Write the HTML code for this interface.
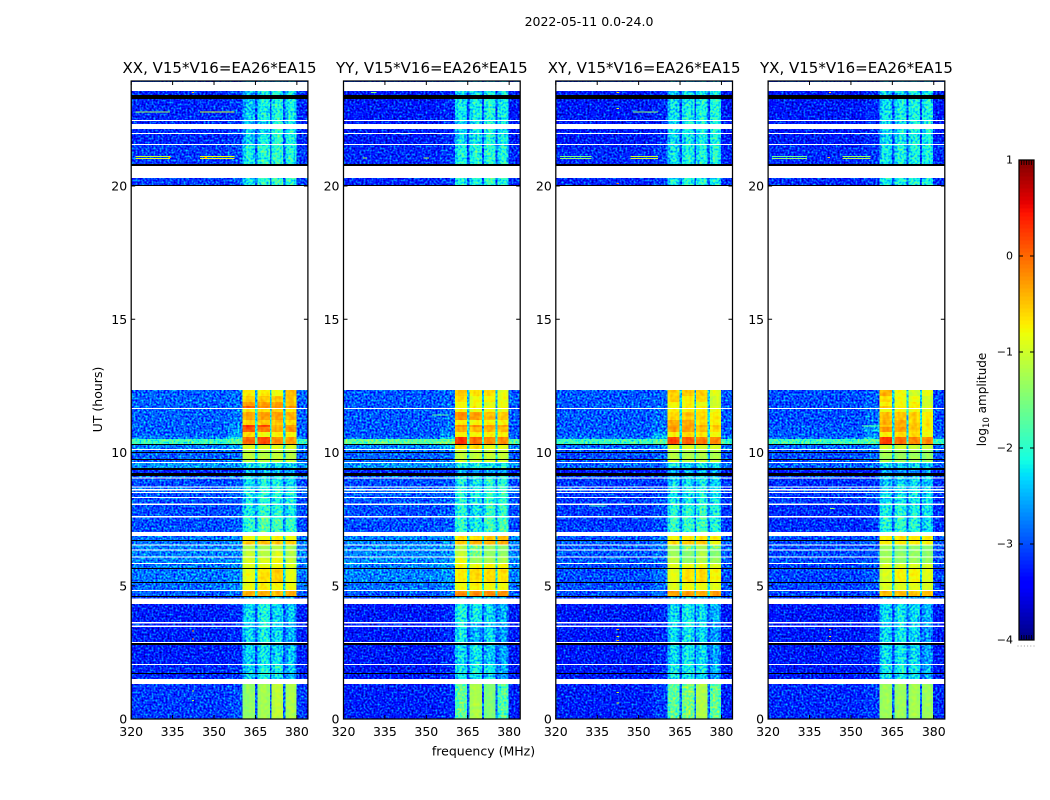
<!DOCTYPE html>
<html lang="en">
<head>
<meta charset="utf-8">
<title>2022-05-11 0.0-24.0 amplitude waterfall</title>
<style>
html,body{margin:0;padding:0;background:#fff;}
svg{display:block;font-family:"DejaVu Sans","Liberation Sans",sans-serif;fill:#000;}
</style>
</head>
<body>
<svg id="chart" xmlns="http://www.w3.org/2000/svg" width="1050" height="800" viewBox="0 0 1050 800">
  <defs>
    <!-- Cell fills hold log-amplitude as gray; the filters map gray to the jet colormap. The grain is visual texture only, not data. -->
    <filter id="grainBg" filterUnits="userSpaceOnUse" x="0" y="0" width="1050" height="800" color-interpolation-filters="sRGB">
      <feTurbulence type="fractalNoise" baseFrequency="0.5" numOctaves="1" seed="3" result="n"/>
      <feColorMatrix in="n" type="matrix" values="1 0 0 0 0 1 0 0 0 0 1 0 0 0 0 0 0 0 0 1" result="g"/>
      <feComposite in="SourceGraphic" in2="g" operator="arithmetic" k1="0" k2="1" k3="0.5" k4="-0.25" result="m"/>
      <feComponentTransfer in="m" result="c"><feFuncR class="jr" type="table"/><feFuncG class="jg" type="table"/><feFuncB class="jb" type="table"/></feComponentTransfer>
      <feComposite in="c" in2="SourceAlpha" operator="in"/>
    </filter>
    <filter id="grainBand" filterUnits="userSpaceOnUse" x="0" y="0" width="1050" height="800" color-interpolation-filters="sRGB">
      <feTurbulence type="fractalNoise" baseFrequency="0.45" numOctaves="1" seed="8" result="n"/>
      <feColorMatrix in="n" type="matrix" values="1 0 0 0 0 1 0 0 0 0 1 0 0 0 0 0 0 0 0 1" result="g"/>
      <feComposite in="SourceGraphic" in2="g" operator="arithmetic" k1="0" k2="1" k3="0.45" k4="-0.225" result="m"/>
      <feComponentTransfer in="m" result="c"><feFuncR class="jr" type="table"/><feFuncG class="jg" type="table"/><feFuncB class="jb" type="table"/></feComponentTransfer>
      <feComposite in="c" in2="SourceAlpha" operator="in"/>
    </filter>
    <filter id="grainHot" filterUnits="userSpaceOnUse" x="0" y="0" width="1050" height="800" color-interpolation-filters="sRGB">
      <feTurbulence type="fractalNoise" baseFrequency="0.3" numOctaves="1" seed="5" result="n"/>
      <feColorMatrix in="n" type="matrix" values="1 0 0 0 0 1 0 0 0 0 1 0 0 0 0 0 0 0 0 1" result="g"/>
      <feComposite in="SourceGraphic" in2="g" operator="arithmetic" k1="0" k2="1" k3="0.1" k4="-0.05" result="m"/>
      <feComponentTransfer in="m" result="c"><feFuncR class="jr" type="table"/><feFuncG class="jg" type="table"/><feFuncB class="jb" type="table"/></feComponentTransfer>
      <feComposite in="c" in2="SourceAlpha" operator="in"/>
    </filter>
    <filter id="plainJet" filterUnits="userSpaceOnUse" x="0" y="0" width="1050" height="800" color-interpolation-filters="sRGB">
      <feComponentTransfer><feFuncR class="jr" type="table"/><feFuncG class="jg" type="table"/><feFuncB class="jb" type="table"/></feComponentTransfer>
    </filter>
  </defs>
  <rect x="0" y="0" width="1050" height="800" fill="#fff"/>
  <text x="589" y="26" text-anchor="middle" font-size="12.5">2022-05-11 0.0-24.0</text>
  <text x="483.5" y="755.5" text-anchor="middle" font-size="12.5">frequency (MHz)</text>
  <text transform="translate(102,399.5) rotate(-90)" text-anchor="middle" font-size="12.5">UT (hours)</text>
  <text transform="translate(986,399.5) rotate(-90)" text-anchor="middle" font-size="12">log<tspan font-size="8.5" dy="3">10</tspan><tspan dy="-3"> amplitude</tspan></text>
  <g id="panels"></g>
  <g id="colorbar"></g>
</svg>
<script>
// ---- shared axes data ----
const panelTitles = ["XX, V15*V16=EA26*EA15","YY, V15*V16=EA26*EA15","XY, V15*V16=EA26*EA15","YX, V15*V16=EA26*EA15"];
const xTicks = [320,335,350,365,380];
const yTicks = [0,5,10,15,20];
const cbTicks = [-4,-3,-2,-1,0,1];
// frequency channel-group edges (MHz)
const freqEdges = [320,355,360.4,361.5,363.6,364.8,365.7,367,369,370.2,370.8,372,374,375,375.8,377,379,379.8,384];
// which value of a row each frequency column uses: 0 bg, 1 near, 2..5 bands, 6 notch
const columnValue = [0,1,2,2,2,6,3,3,3,6,4,4,4,6,5,5,5,0];
// passband shape read across each band (dex relative to the band level)
const columnShape = [0,0,-0.2,0.05,-0.1,0,-0.15,0.05,-0.1,0,-0.15,0.05,-0.1,0,-0.15,0.05,-0.2,0];
// time bands: start UT, end UT, kind (d = data, w = flagged white, k = flagged black)
const timeBands = [
[0,1.31,'d'],[1.31,1.5,'w'],[1.5,1.69,'d'],[1.69,1.73,'k'],[1.73,2.03,'d'],[2.03,2.06,'w'],[2.06,2.78,'d'],[2.78,2.85,'k'],[2.85,2.89,'w'],[2.89,3.45,'d'],
[3.45,3.51,'w'],[3.51,3.59,'d'],[3.59,3.64,'w'],[3.64,4.32,'d'],[4.32,4.52,'w'],[4.52,4.58,'d'],[4.58,4.62,'k'],[4.62,4.8,'d'],[4.8,4.84,'w'],[4.84,5.1,'d'],
[5.1,5.14,'k'],[5.14,5.63,'d'],[5.63,5.67,'k'],[5.67,5.82,'d'],[5.82,5.85,'w'],[5.85,6.06,'d'],[6.06,6.1,'w'],[6.1,6.32,'d'],[6.32,6.36,'w'],[6.36,6.51,'d'],
[6.51,6.55,'w'],[6.55,6.68,'d'],[6.68,6.72,'k'],[6.72,6.87,'d'],[6.87,7.02,'w'],[7.02,7.56,'d'],[7.56,7.62,'w'],[7.62,8.03,'d'],[8.03,8.09,'w'],[8.09,8.29,'d'],
[8.29,8.33,'w'],[8.33,8.48,'d'],[8.48,8.52,'w'],[8.52,8.57,'d'],[8.57,8.63,'w'],[8.63,8.69,'d'],[8.69,8.72,'w'],[8.72,9.02,'d'],[9.02,9.06,'w'],[9.06,9.12,'d'],
[9.12,9.23,'k'],[9.23,9.34,'d'],[9.34,9.42,'k'],[9.42,9.61,'d'],[9.61,9.64,'w'],[9.64,9.72,'d'],[9.72,9.76,'k'],[9.76,9.98,'d'],[9.98,10.02,'k'],[10.02,10.09,'d'],
[10.09,10.13,'w'],[10.13,10.28,'d'],[10.28,10.32,'k'],[10.32,10.5,'d'],[10.5,10.58,'d'],[10.58,10.77,'d'],[10.77,10.96,'d'],[10.96,11.03,'d'],[11.03,11.22,'d'],[11.22,11.52,'d'],
[11.52,11.63,'d'],[11.63,11.67,'w'],[11.67,11.74,'d'],[11.74,11.89,'d'],[11.89,12.12,'d'],[12.12,12.35,'d'],[12.35,20,'w'],[20,20.04,'k'],[20.04,20.3,'d'],[20.3,20.75,'w'],
[20.75,20.83,'k'],[20.83,21.54,'d'],[21.54,21.58,'w'],[21.58,21.95,'d'],[21.95,21.99,'w'],[21.99,22.14,'d'],[22.14,22.33,'w'],[22.33,22.44,'d'],[22.44,22.48,'w'],[22.48,23.27,'d'],
[23.27,23.42,'k'],[23.42,23.56,'d'],[23.56,23.9,'w'],[23.9,23.94,'d']];

// log10 amplitude per data band: [background, near-band, band1, band2, band3, band4, notch]
const xxRows = [
[-3.1,-3.0,-1.35,-1.25,-1.1,-1.2,-2.9],[-3.2,-3.1,-2.3,-2.1,-2.2,-2.5,-3.0],[-3.2,-3.1,-2.3,-2.1,-2.1,-2.4,-3.0],[-3.25,-3.2,-2.35,-2.2,-2.3,-2.4,-3.0],
[-3.25,-3.15,-2.3,-2.15,-2.3,-2.5,-3.0],[-3.25,-3.15,-2.3,-2.15,-2.3,-2.5,-3.0],[-3.25,-3.15,-2.3,-2.1,-2.3,-2.4,-3.0],[-3.1,-3.0,-2.5,-2.4,-2.5,-2.6,-2.9],
[-2.95,-2.8,-0.35,-0.35,-0.45,-0.35,-2.2],[-2.85,-2.7,-0.85,-0.7,-0.75,-0.8,-2.3],[-2.8,-2.7,-0.85,-0.65,-0.55,-0.85,-2.3],[-2.8,-2.7,-0.9,-0.85,-0.8,-0.95,-2.3],
[-2.75,-2.7,-0.95,-0.95,-0.8,-1.05,-2.3],[-2.75,-2.7,-1.05,-1.15,-0.95,-1.15,-2.3],[-2.75,-2.7,-1.15,-1.25,-1.15,-1.25,-2.3],[-2.8,-2.7,-0.5,-0.45,-0.5,-0.55,-2.2],
[-2.8,-2.7,-0.75,-0.8,-0.75,-0.8,-2.2],[-3.0,-2.95,-2.0,-1.75,-1.85,-1.95,-2.7],[-3.0,-2.95,-2.15,-1.95,-2.05,-2.15,-2.7],[-3.0,-2.95,-2.25,-2.05,-2.15,-2.15,-2.8],
[-2.95,-2.9,-2.15,-2.05,-2.05,-2.05,-2.7],[-2.85,-2.8,-2.15,-2.05,-2.05,-2.05,-2.7],[-2.85,-2.8,-2.15,-2.05,-2.05,-2.05,-2.7],[-3.0,-2.95,-2.25,-2.15,-2.15,-2.25,-2.8],
[-2.85,-2.8,-2.25,-2.15,-2.25,-2.25,-2.7],[-3.2,-3.2,-2.5,-2.5,-2.5,-2.6,-3.0],[-2.65,-2.6,-2.25,-2.15,-2.25,-2.25,-2.5],[-2.9,-2.85,-1.1,-1.1,-1.1,-1.1,-2.3],
[-2.9,-2.85,-1.1,-1.15,-1.1,-1.15,-2.3],[-2.9,-2.85,-1.1,-1.15,-1.1,-1.15,-2.3],[-2.75,-2.6,-0.9,-0.95,-0.9,-0.95,-2.2],[-1.9,-1.7,0.0,0.15,-0.2,-0.3,-1.8],
[-2.7,-2.2,0.0,0.15,-0.2,-0.3,-2.0],[-2.9,-2.6,-0.6,-0.8,-0.75,-0.75,-2.3],[-2.9,-2.6,0.1,-0.1,-0.35,-0.2,-2.2],[-2.9,-2.7,0.3,0.2,-0.4,-0.3,-2.2],
[-2.9,-2.8,-0.55,-0.5,-0.5,-0.6,-2.2],[-2.9,-2.8,-0.35,-0.3,-0.3,-0.4,-2.2],[-2.9,-2.8,-0.7,-0.6,-0.55,-0.7,-2.3],[-2.9,-2.8,0.1,-0.15,-0.2,-0.2,-2.3],
[-2.9,-2.85,-0.3,-0.3,-0.3,-0.45,-2.4],[-2.9,-2.85,-0.55,-0.5,-0.5,-0.5,-2.4],[-2.9,-2.85,-0.7,-0.7,-0.8,-0.45,-2.4],[-3.1,-3.0,-2.2,-2.0,-1.85,-2.0,-2.9],
[-3.1,-3.0,-2.15,-2.0,-1.95,-2.05,-2.9],[-3.2,-3.1,-2.35,-2.2,-2.0,-2.1,-3.0],[-3.2,-3.1,-2.4,-2.3,-2.0,-2.1,-3.0],[-3.2,-3.1,-2.4,-2.3,-2.1,-2.2,-3.0],
[-3.2,-3.1,-2.4,-2.15,-2.05,-2.15,-3.0],[-3.2,-3.1,-2.4,-2.2,-2.1,-2.2,-3.0],[-3.0,-3.0,-2.5,-2.5,-2.5,-2.5,-2.9]];
const yyRows = [
[-3.25,-3.2,-1.65,-1.2,-1.45,-1.75,-2.9],[-3.3,-3.2,-2.3,-2.2,-2.3,-2.6,-3.0],[-3.3,-3.2,-2.2,-2.1,-2.2,-2.5,-3.0],[-3.3,-3.2,-2.3,-2.2,-2.4,-2.6,-3.0],
[-3.3,-3.2,-2.2,-2.5,-2.3,-2.6,-3.0],[-3.3,-3.2,-2.2,-2.5,-2.3,-2.6,-3.0],[-3.3,-3.2,-2.1,-2.2,-2.3,-2.5,-3.0],[-3.0,-2.9,-2.4,-2.4,-2.4,-2.5,-2.9],
[-2.95,-2.85,-0.2,-0.2,-0.2,-0.2,-2.1],[-2.85,-2.75,-0.8,-0.75,-0.8,-0.8,-2.2],[-2.75,-2.65,-0.7,-0.6,-0.6,-0.65,-2.2],[-2.75,-2.65,-0.75,-0.8,-0.75,-0.75,-2.2],
[-2.7,-2.65,-0.85,-1.3,-1.25,-1.2,-2.2],[-2.7,-2.65,-1.05,-1.5,-1.35,-1.4,-2.3],[-2.7,-2.65,-1.15,-1.5,-1.35,-1.4,-2.3],[-2.75,-2.65,-0.5,-0.4,-0.4,-0.35,-2.2],
[-2.75,-2.65,-0.65,-0.6,-0.5,-0.45,-2.2],[-3.0,-2.95,-1.95,-2.15,-1.85,-1.85,-2.7],[-3.0,-2.95,-2.05,-2.25,-1.95,-1.95,-2.7],[-2.95,-2.9,-2.05,-2.25,-1.95,-1.95,-2.7],
[-2.95,-2.9,-2.05,-2.15,-1.95,-1.95,-2.7],[-2.85,-2.8,-2.05,-2.15,-1.95,-1.95,-2.7],[-2.85,-2.8,-2.05,-2.15,-1.95,-1.95,-2.7],[-3.0,-2.95,-2.15,-2.25,-2.05,-2.05,-2.8],
[-2.85,-2.8,-2.15,-2.25,-2.05,-2.15,-2.7],[-3.2,-3.2,-2.5,-2.6,-2.5,-2.5,-3.0],[-2.65,-2.6,-2.15,-2.15,-2.15,-2.15,-2.5],[-2.9,-2.85,-1.0,-1.1,-1.0,-1.05,-2.3],
[-2.9,-2.85,-1.1,-1.1,-1.05,-1.05,-2.3],[-2.9,-2.85,-1.1,-1.1,-1.05,-1.05,-2.3],[-2.7,-2.5,-0.6,-0.6,-0.85,-0.85,-2.2],[-1.7,-1.6,0.3,0.0,-0.2,-0.2,-1.8],
[-2.8,-2.4,0.3,0.0,-0.2,-0.2,-2.0],[-2.95,-2.7,-0.7,-0.7,-0.75,-0.7,-2.3],[-2.95,-2.8,-0.35,-0.45,-0.4,-0.45,-2.3],[-2.95,-2.8,-0.2,-0.2,-0.3,-0.3,-2.3],
[-2.95,-2.85,-0.7,-0.75,-0.7,-0.75,-2.3],[-2.95,-2.85,-0.2,-0.3,-0.45,-0.5,-2.3],[-2.95,-2.85,-0.75,-0.8,-0.8,-0.85,-2.3],[-2.95,-2.85,-0.8,-0.7,-0.8,-0.8,-2.4],
[-2.95,-2.85,-0.8,-0.8,-0.9,-0.8,-2.4],[-2.95,-2.9,-0.6,-0.8,-0.75,-0.85,-2.4],[-2.95,-2.9,-0.5,-0.65,-0.6,-0.85,-2.4],[-3.2,-3.1,-2.1,-2.1,-1.9,-2.05,-3.0],
[-3.2,-3.1,-2.1,-2.05,-2.0,-2.1,-3.0],[-3.3,-3.2,-2.3,-2.2,-2.05,-2.15,-3.0],[-3.3,-3.2,-2.3,-2.2,-2.1,-2.2,-3.0],[-3.3,-3.2,-2.3,-2.2,-2.1,-2.2,-3.0],
[-3.3,-3.2,-2.2,-2.15,-2.05,-2.15,-3.0],[-3.3,-3.2,-2.3,-2.2,-2.1,-2.2,-3.0],[-3.0,-3.0,-2.5,-2.5,-2.5,-2.5,-2.9]];
const xyRows = [
[-3.25,-3.1,-1.7,-1.5,-1.2,-1.65,-2.8],[-3.3,-3.2,-2.2,-2.2,-2.3,-2.6,-3.0],[-3.3,-3.2,-2.2,-2.1,-2.2,-2.5,-3.0],[-3.3,-3.2,-2.3,-2.2,-2.3,-2.6,-3.0],
[-3.3,-3.2,-2.3,-2.2,-2.3,-2.6,-3.0],[-3.3,-3.2,-2.3,-2.2,-2.3,-2.6,-3.0],[-3.3,-3.2,-2.3,-2.2,-2.3,-2.5,-3.0],[-3.1,-3.0,-2.5,-2.4,-2.5,-2.6,-2.9],
[-3.0,-2.9,-0.3,-0.3,-0.35,-0.3,-2.2],[-3.0,-2.85,-0.9,-0.8,-0.8,-0.9,-2.3],[-3.0,-2.85,-0.85,-0.65,-0.6,-0.75,-2.3],[-3.0,-2.9,-0.9,-0.85,-0.8,-0.9,-2.3],
[-2.95,-2.85,-1.1,-1.35,-1.15,-1.3,-2.4],[-2.95,-2.85,-1.3,-1.45,-1.2,-1.45,-2.4],[-2.95,-2.85,-1.3,-1.5,-1.25,-1.5,-2.4],[-2.95,-2.8,-0.6,-0.5,-0.5,-0.8,-2.3],
[-2.95,-2.8,-0.75,-0.7,-0.7,-0.75,-2.3],[-3.1,-3.0,-1.95,-1.95,-1.85,-2.05,-2.8],[-3.1,-3.0,-2.05,-2.05,-1.95,-2.1,-2.8],[-3.1,-3.0,-2.2,-2.2,-2.1,-2.2,-2.9],
[-3.1,-3.0,-2.2,-2.2,-2.1,-2.2,-2.9],[-3.0,-3.0,-2.2,-2.2,-2.1,-2.2,-2.8],[-3.0,-3.0,-2.2,-2.2,-2.1,-2.2,-2.8],[-3.1,-3.1,-2.3,-2.3,-2.2,-2.3,-2.9],
[-3.0,-3.0,-2.3,-2.3,-2.2,-2.3,-2.9],[-3.3,-3.3,-2.6,-2.6,-2.6,-2.6,-3.1],[-2.9,-2.85,-2.2,-2.4,-2.2,-2.3,-2.7],[-3.0,-2.9,-1.05,-1.1,-1.1,-1.1,-2.4],
[-3.0,-2.9,-1.15,-1.2,-1.2,-1.2,-2.4],[-3.0,-2.9,-1.15,-1.2,-1.2,-1.2,-2.4],[-2.85,-2.7,-0.9,-0.95,-0.95,-0.95,-2.3],[-1.9,-1.7,0.2,0.05,-0.1,-0.15,-1.8],
[-2.8,-2.4,0.2,0.05,-0.1,-0.15,-2.0],[-2.9,-2.6,-0.75,-0.6,-0.7,-0.8,-2.3],[-2.95,-2.8,-0.3,-0.3,-0.5,-0.6,-2.3],[-2.95,-2.85,-0.3,-0.3,-0.4,-0.5,-2.3],
[-2.95,-2.85,-0.35,-0.35,-0.6,-0.7,-2.3],[-2.95,-2.85,-0.6,-0.5,-0.6,-0.7,-2.3],[-2.95,-2.85,-0.7,-0.7,-0.7,-0.85,-2.3],[-2.95,-2.85,-0.8,-0.7,-0.7,-0.9,-2.4],
[-2.95,-2.9,-0.75,-0.75,-0.9,-1.0,-2.4],[-2.95,-2.9,-0.55,-0.7,-0.6,-1.0,-2.4],[-2.95,-2.9,-0.55,-0.5,-0.55,-0.9,-2.4],[-3.2,-3.1,-2.15,-2.05,-2.05,-2.1,-3.0],
[-3.2,-3.1,-2.2,-2.1,-2.1,-2.05,-3.0],[-3.3,-3.2,-2.3,-2.2,-2.15,-2.1,-3.0],[-3.3,-3.2,-2.3,-2.2,-2.15,-2.1,-3.0],[-3.3,-3.2,-2.3,-2.2,-2.15,-2.1,-3.0],
[-3.3,-3.2,-2.25,-2.15,-2.1,-2.05,-3.0],[-3.3,-3.2,-2.35,-2.25,-2.2,-2.15,-3.0],[-3.0,-3.0,-2.5,-2.5,-2.5,-2.5,-2.9]];
const yxRows = [
[-3.2,-3.1,-1.3,-1.3,-1.25,-1.3,-2.9],[-3.3,-3.2,-2.2,-2.2,-2.3,-2.6,-3.0],[-3.3,-3.2,-2.2,-2.1,-2.2,-2.5,-3.0],[-3.3,-3.2,-2.3,-2.2,-2.3,-2.6,-3.0],
[-3.3,-3.2,-2.3,-2.2,-2.3,-2.6,-3.0],[-3.3,-3.2,-2.3,-2.2,-2.3,-2.6,-3.0],[-3.3,-3.2,-2.3,-2.2,-2.3,-2.5,-3.0],[-3.1,-3.0,-2.5,-2.4,-2.5,-2.6,-2.9],
[-3.05,-2.95,-0.45,-0.45,-0.5,-0.45,-2.3],[-3.05,-2.95,-0.95,-0.9,-0.9,-0.95,-2.3],[-3.05,-2.95,-0.95,-0.75,-0.75,-0.9,-2.3],[-3.05,-2.95,-0.95,-0.95,-0.95,-0.95,-2.3],
[-3.0,-2.95,-1.2,-1.35,-1.3,-1.35,-2.4],[-3.0,-2.95,-1.3,-1.4,-1.35,-1.4,-2.4],[-3.0,-2.95,-1.3,-1.45,-1.4,-1.45,-2.4],[-3.0,-2.9,-0.7,-0.7,-0.7,-0.75,-2.3],
[-3.0,-2.9,-0.7,-0.65,-0.7,-0.7,-2.3],[-3.15,-3.1,-2.05,-1.95,-2.05,-2.25,-2.9],[-3.15,-3.1,-2.15,-2.05,-2.15,-2.25,-2.9],[-3.1,-3.0,-2.3,-2.2,-2.2,-2.3,-2.9],
[-3.1,-3.0,-2.3,-2.2,-2.2,-2.3,-2.9],[-3.0,-3.0,-2.3,-2.2,-2.2,-2.3,-2.8],[-3.0,-3.0,-2.3,-2.2,-2.2,-2.3,-2.8],[-3.15,-3.1,-2.4,-2.3,-2.3,-2.4,-2.9],
[-3.0,-3.0,-2.3,-2.3,-2.3,-2.3,-2.9],[-3.3,-3.3,-2.6,-2.6,-2.6,-2.6,-3.1],[-2.9,-2.85,-2.3,-2.3,-2.3,-2.4,-2.7],[-3.0,-2.9,-1.25,-1.3,-1.3,-1.3,-2.4],
[-3.0,-2.9,-1.25,-1.3,-1.3,-1.35,-2.4],[-3.0,-2.9,-1.25,-1.3,-1.3,-1.35,-2.4],[-2.85,-2.7,-1.0,-1.0,-1.05,-1.05,-2.3],[-1.9,-1.7,0.25,-0.05,-0.15,-0.2,-1.8],
[-2.8,-2.4,0.25,-0.05,-0.15,-0.2,-2.0],[-2.95,-2.7,-0.7,-0.6,-0.6,-0.85,-2.3],[-2.95,-2.6,-0.25,-0.3,-0.5,-0.7,-2.3],[-2.95,-2.5,-0.5,-0.4,-0.5,-0.7,-2.3],
[-3.0,-2.85,-0.35,-0.35,-0.55,-0.7,-2.3],[-3.0,-2.85,-0.45,-0.5,-0.55,-0.7,-2.3],[-3.0,-2.85,-0.8,-0.8,-0.8,-0.9,-2.3],[-3.0,-2.85,-0.5,-0.7,-0.75,-0.9,-2.4],
[-3.0,-2.9,-0.75,-0.8,-0.7,-1.0,-2.4],[-3.0,-2.9,-0.6,-0.8,-0.85,-1.0,-2.4],[-3.0,-2.95,-0.4,-0.8,-1.0,-0.85,-2.4],[-3.2,-3.1,-2.15,-2.1,-2.05,-2.1,-3.0],
[-3.2,-3.1,-2.2,-2.1,-2.1,-2.1,-3.0],[-3.3,-3.2,-2.3,-2.2,-2.15,-2.15,-3.0],[-3.3,-3.2,-2.3,-2.2,-2.15,-2.15,-3.0],[-3.3,-3.2,-2.3,-2.2,-2.15,-2.15,-3.0],
[-3.3,-3.2,-2.25,-2.15,-2.1,-2.1,-3.0],[-3.3,-3.2,-2.35,-2.25,-2.2,-2.2,-3.0],[-3.0,-3.0,-2.5,-2.5,-2.5,-2.5,-2.9]];

// narrowband interference: UT, start MHz, end MHz, log10 amplitude
const xxLines = [[22.78,321.5,334,-1.3],[22.78,345,357.5,-1.0],[21.1,321.5,334,-1.0],[21.03,321.5,334,-0.9],[21.1,345,357.5,-0.8],[21.03,345,357.5,-0.8],[21.07,333.5,334.5,-0.1],[21.07,346.5,347.5,-0.1],[23.5,342,342.8,-0.5],[3.3,342,342.8,-0.3],[3.0,342,342.8,-0.3],[1.05,342,342.8,-1.2],[0.7,342,342.8,-1.2]];
const yyLines = [[21.05,327,328.5,-1.2],[21.05,349,351,-1.2],[11.4,352,358,-1.7],[23.5,330,332,-1.5]];
const xyLines = [[22.78,348,357,-1.4],[21.1,321.5,333,-1.5],[21.03,321.5,333,-1.4],[21.1,347,357,-1.0],[21.03,347,357,-1.0],[23.5,342,342.8,-0.6],[22.9,342,342.8,-0.9],[20.1,342,342.8,-0.1],[3.35,342,342.8,-0.3],[3.1,342,342.8,-0.7],[2.95,342,342.8,-0.3],[1.0,342,342.8,-1.1],[0.6,342,342.8,-0.9],[8.0,332,338,-1.9]];
const yxLines = [[21.1,321.5,334,-1.6],[21.03,321.5,334,-1.4],[21.1,347,357,-1.3],[21.03,347,357,-1.2],[21.07,341.6,342.4,-0.5],[23.5,342,342.8,-0.6],[3.35,342,342.8,-0.3],[3.1,342,342.8,-0.7],[2.95,342,342.8,-0.3],[7.9,342.5,344,-1.3],[11.0,354,360,-1.7]];

const panelRows = [xxRows,yyRows,xyRows,yxRows];
const panelLines = [xxLines,yyLines,xyLines,yxLines];
const panelKeys = ['xx','yy','xy','yx'];

// ---- scales ----
const NS = 'http://www.w3.org/2000/svg';
const panelLeft = i => 131.2 + 212.3 * i;
const panelWidth = 176.7;
const panelTop = 81, panelBottom = 719, yMax = 23.94;
const xScale = (f, i) => panelLeft(i) + (f - 320) / 64 * panelWidth;
const yScale = t => panelBottom - t / yMax * (panelBottom - panelTop);
const cbTop = 160, cbBottom = 640, cbLeft = 1019, cbRight = 1034;
const cbScale = v => cbBottom - (v + 4) / 5 * (cbBottom - cbTop);
const grayOf = v => { const g = Math.round(Math.max(0, Math.min(1, (v + 4) / 5)) * 255); return 'rgb(' + g + ',' + g + ',' + g + ')'; };

function knot(t, pts) {
  for (let i = 1; i < pts.length; i++) {
    if (t <= pts[i][0]) {
      const a = pts[i - 1], b = pts[i];
      return a[1] + (b[1] - a[1]) * (t - a[0]) / (b[0] - a[0]);
    }
  }
  return pts[pts.length - 1][1];
}
const jetR = t => knot(t, [[0,0],[0.35,0],[0.66,1],[0.89,1],[1,0.5]]);
const jetG = t => knot(t, [[0,0],[0.125,0],[0.375,1],[0.64,1],[0.91,0],[1,0]]);
const jetB = t => knot(t, [[0,0.5],[0.11,1],[0.34,1],[0.65,0],[1,0]]);
function tableOf(fn) { const a = []; for (let i = 0; i <= 128; i++) a.push(fn(i / 128).toFixed(4)); return a.join(' '); }
document.querySelectorAll('.jr').forEach(e => e.setAttribute('tableValues', tableOf(jetR)));
document.querySelectorAll('.jg').forEach(e => e.setAttribute('tableValues', tableOf(jetG)));
document.querySelectorAll('.jb').forEach(e => e.setAttribute('tableValues', tableOf(jetB)));

function mk(tag, attrs, parent) {
  const el = document.createElementNS(NS, tag);
  for (const k in attrs) el.setAttribute(k, attrs[k]);
  parent.appendChild(el);
  return el;
}

const panelsEl = document.getElementById('panels');

panelRows.forEach((rows, i) => {
  const key = panelKeys[i];
  const left = panelLeft(i), right = left + panelWidth;
  const g = mk('g', {}, panelsEl);
  
  

  const title = mk('text', {x: left + panelWidth / 2, y: 73, 'text-anchor': 'middle', 'font-size': 15}, g);
  title.textContent = panelTitles[i];
  
  

  const bgLayer = mk('g', {filter: 'url(#grainBg)', 'shape-rendering': 'crispEdges'}, g);
  
  
  const bandLayer = mk('g', {filter: 'url(#grainBand)', 'shape-rendering': 'crispEdges'}, g);
  
  
  const hotLayer = mk('g', {filter: 'url(#grainHot)', 'shape-rendering': 'crispEdges'}, g);
  
  
  const lineLayer = mk('g', {filter: 'url(#plainJet)', 'shape-rendering': 'crispEdges'}, g);
  
  
  const flagLayer = mk('g', {'shape-rendering': 'crispEdges'}, g);
  
  

  let r = 0;
  timeBands.forEach(band => {
    const y0 = yScale(band[1]), y1 = yScale(band[0]);
    if (band[2] === 'd') {
      const row = rows[r++];
      for (let c = 0; c < freqEdges.length - 1; c++) {
        const vi = columnValue[c];
        const level = row[vi];
        const hot = level > -1.5;
        const v = level + columnShape[c] * (hot ? 0.4 : 1);
        const x0 = xScale(freqEdges[c], i), x1 = xScale(freqEdges[c + 1], i);
        const layer = (vi === 0 || vi === 1) ? bgLayer : (hot ? hotLayer : bandLayer);
        const cell = mk('rect', {x: x0.toFixed(2), y: y0.toFixed(2), width: (x1 - x0).toFixed(2), height: (y1 - y0).toFixed(2), fill: grayOf(v)}, layer);
        
        
      }
    } else {
      const flag = mk('rect', {x: left.toFixed(2), y: y0.toFixed(2), width: panelWidth, height: (y1 - y0).toFixed(2), fill: band[2] === 'w' ? '#fff' : '#000'}, flagLayer);
      
      
    }
  });

  panelLines[i].forEach(l => {
    const x0 = xScale(l[1], i), x1 = xScale(l[2], i);
    const mark = mk('rect', {x: x0.toFixed(2), y: (yScale(l[0]) - 0.5).toFixed(2), width: Math.max(1, x1 - x0).toFixed(2), height: 1, fill: grayOf(l[3])}, lineLayer);
    
    
  });

  xTicks.forEach(tv => {
    const x = xScale(tv, i);
    const t1 = mk('line', {x1: x, x2: x, y1: panelBottom, y2: panelBottom - 4, stroke: '#000', 'stroke-width': 1}, g);
    
    
    const t2 = mk('line', {x1: x, x2: x, y1: panelTop, y2: panelTop + 4, stroke: '#000', 'stroke-width': 1}, g);
    
    
    const lab = mk('text', {x: x, y: 736, 'text-anchor': 'middle', 'font-size': 12.5}, g);
    lab.textContent = String(tv);
    
    
  });
  yTicks.forEach(tv => {
    const y = yScale(tv);
    const t1 = mk('line', {x1: left, x2: left + 4, y1: y, y2: y, stroke: '#000', 'stroke-width': 1}, g);
    
    
    const t2 = mk('line', {x1: right, x2: right - 4, y1: y, y2: y, stroke: '#000', 'stroke-width': 1}, g);
    
    
    const lab = mk('text', {x: left - 4, y: y + 4.5, 'text-anchor': 'end', 'font-size': 12.5}, g);
    lab.textContent = String(tv);
    
    
  });

  const frame = mk('rect', {x: left, y: panelTop, width: panelWidth, height: panelBottom - panelTop, fill: 'none', stroke: '#000', 'stroke-width': 1.25}, g);
  
  
});

// ---- colorbar ----
const cb = document.getElementById('colorbar');
const cbSteps = 120;
for (let s = 0; s < cbSteps; s++) {
  const t0 = s / cbSteps, t1 = (s + 1) / cbSteps, tm = (t0 + t1) / 2;
  const col = 'rgb(' + Math.round(jetR(tm) * 255) + ',' + Math.round(jetG(tm) * 255) + ',' + Math.round(jetB(tm) * 255) + ')';
  const y1 = cbBottom - t0 * (cbBottom - cbTop), y0 = cbBottom - t1 * (cbBottom - cbTop);
  const seg = mk('rect', {x: cbLeft, y: y0, width: cbRight - cbLeft, height: y1 - y0 + 0.5, fill: col, 'shape-rendering': 'crispEdges'}, cb);
  
  
}
cbTicks.forEach(v => {
  const y = cbScale(v);
  const a = mk('line', {x1: cbLeft, x2: cbLeft + 4, y1: y, y2: y, stroke: '#000', 'stroke-width': 1}, cb);
  
  
  const b = mk('line', {x1: cbRight, x2: cbRight - 4, y1: y, y2: y, stroke: '#000', 'stroke-width': 1}, cb);
  
  
  const lab = mk('text', {x: cbLeft - 6, y: y + 3.5, 'text-anchor': 'end', 'font-size': 11}, cb);
  lab.textContent = v < 0 ? '\u2212' + Math.abs(v) : String(v);
  
  
});
for (let k = 1; k < 6; k++) {
  const x = cbLeft + k * (cbRight - cbLeft) / 6;
  const top = mk('line', {x1: x, x2: x, y1: cbTop, y2: cbTop + 5, stroke: '#000', 'stroke-width': 0.8}, cb);
  
  
  const bot = mk('line', {x1: x, x2: x, y1: cbBottom, y2: cbBottom - 5, stroke: '#000', 'stroke-width': 0.8}, cb);
  
  
}
for (let k = 0; k < 6; k++) {
  const dot = mk('rect', {x: 1017.5 + k * 3.2, y: 645.5, width: 1, height: 1, fill: '#999'}, cb);
  
  
}
const cbFrame = mk('rect', {x: cbLeft, y: cbTop, width: cbRight - cbLeft, height: cbBottom - cbTop, fill: 'none', stroke: '#000', 'stroke-width': 1.25}, cb);


</script>
</body>
</html>
